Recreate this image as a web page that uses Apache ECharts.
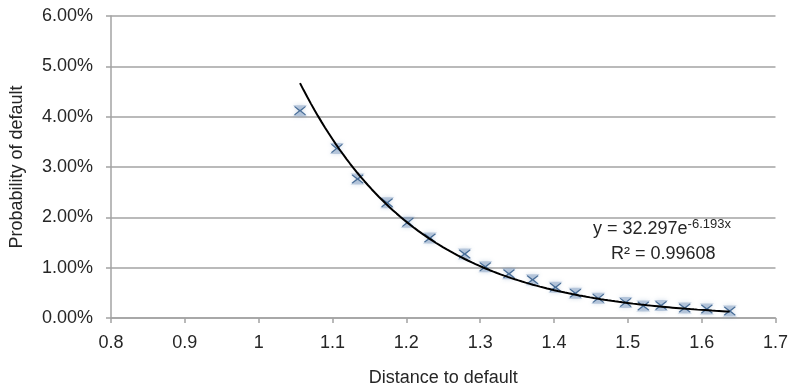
<!DOCTYPE html>
<html>
<head>
<meta charset="utf-8">
<script src="https://cdn.jsdelivr.net/npm/echarts@6/dist/echarts.min.js"></script>
<style>
  html, body { margin: 0; padding: 0; background: #fff; }
  #chart { width: 791px; height: 392px; }
</style>
</head>
<body>
<div id="chart"></div>
<script>
// Distance to default (x) and observed probability of default in % (y)
const distance = [1.056, 1.106, 1.134, 1.174, 1.202, 1.232, 1.279, 1.307, 1.339, 1.371,
                  1.402, 1.429, 1.460, 1.497, 1.521, 1.545, 1.577, 1.607, 1.638];
const pdPercent = [4.12, 3.37, 2.76, 2.29, 1.90, 1.59, 1.27, 1.02, 0.88, 0.76,
                   0.61, 0.49, 0.39, 0.31, 0.24, 0.25, 0.20, 0.18, 0.14];

// Exponential trendline y = a·e^(b·x), as reported in the equation label (fraction units)
const trendA = 32.297;
const trendB = -6.193;
const trendR2 = 0.99608;

const xTicks = [0.8, 0.9, 1, 1.1, 1.2, 1.3, 1.4, 1.5, 1.6, 1.7];
const yTicks = [0, 1, 2, 3, 4, 5, 6];

const points = distance.map((d, i) => [d, pdPercent[i]]);

// Trendline evaluated across the range of the observations, converted to %
const trend = [];
const x0 = distance[0], x1 = distance[distance.length - 1];
const steps = 120;
for (let i = 0; i <= steps; i++) {
  const x = x0 + (x1 - x0) * i / steps;
  trend.push([x, trendA * Math.exp(trendB * x) * 100]);
}

const FONT = 'Liberation Sans';
const TEXT = '#262626';
const AXIS = '#a3a3a3';
const hourglass = 'path://M0,0 L12,0 L7.2,5 L12,10 L0,10 L4.8,5 Z';
const cross = 'path://M1,0 L6,4.2 L11,0 L12,0.8 L7.2,5 L12,9.2 L11,10 L6,5.8 L1,10 L0,9.2 L4.8,5 L0,0.8 Z';

const chart = echarts.init(document.getElementById('chart'), null, { renderer: 'canvas' });
chart.setOption({
  animation: false,
  backgroundColor: '#fff',
  grid: { left: 108, right: 12, top: 16, bottom: 70 },
  xAxis: {
    type: 'value',
    min: xTicks[0], max: xTicks[xTicks.length - 1], interval: 0.1,
    name: 'Distance to default',
    nameLocation: 'middle', nameGap: 51,
    nameTextStyle: { fontFamily: FONT, fontSize: 18, color: TEXT },
    axisLine: { show: true, lineStyle: { color: AXIS, width: 1.5 } },
    axisTick: { show: true, length: 5, lineStyle: { color: AXIS, width: 1.5 } },
    splitLine: { show: false },
    axisLabel: {
      fontFamily: FONT, fontSize: 18, color: TEXT, margin: 16,
      formatter: v => {
        const r = Math.round(v * 10) / 10;
        return xTicks.includes(r) ? String(r) : '';
      }
    }
  },
  yAxis: {
    type: 'value',
    min: yTicks[0], max: yTicks[yTicks.length - 1], interval: 1,
    name: 'Probability of default',
    nameLocation: 'middle', nameGap: 85, nameRotate: 90,
    nameTextStyle: { fontFamily: FONT, fontSize: 18, color: TEXT },
    axisLine: { show: true, lineStyle: { color: AXIS, width: 1.5 } },
    axisTick: { show: true, length: 5, lineStyle: { color: AXIS, width: 1.5 } },
    splitLine: { show: true, lineStyle: { color: AXIS, width: 1.5 } },
    axisLabel: {
      fontFamily: FONT, fontSize: 18, color: TEXT, margin: 18,
      formatter: v => v.toFixed(2) + '%'
    }
  },
  series: [
    {
      type: 'scatter',
      data: points,
      symbol: hourglass,
      symbolSize: [14, 11],
      itemStyle: { color: 'rgba(120,150,190,0.55)', shadowBlur: 4, shadowColor: 'rgba(80,120,170,0.6)' },
      z: 2
    },
    {
      type: 'scatter',
      data: points,
      symbol: cross,
      symbolSize: [12, 9],
      itemStyle: { color: '#2a5585' },
      z: 3
    },
    {
      type: 'line',
      data: trend,
      showSymbol: false,
      symbol: 'none',
      smooth: false,
      lineStyle: { color: '#000', width: 2 },
      z: 4
    }
  ],
  graphic: [
    {
      type: 'text',
      left: 593, top: 218,
      style: {
        text: '{n|y = ' + trendA.toFixed(3) + 'e}{s|' + trendB.toFixed(3) + 'x}',
        rich: {
          n: { fontFamily: FONT, fontSize: 18, fill: TEXT, lineHeight: 22 },
          s: { fontFamily: FONT, fontSize: 13, fill: TEXT, verticalAlign: 'top', lineHeight: 22, padding: [0, 0, 9, 0] }
        }
      }
    },
    {
      type: 'text',
      left: 611, top: 245,
      style: {
        text: 'R² = ' + trendR2.toFixed(5),
        fontFamily: FONT, fontSize: 18, fill: TEXT
      }
    }
  ]
});
</script>
</body>
</html>
